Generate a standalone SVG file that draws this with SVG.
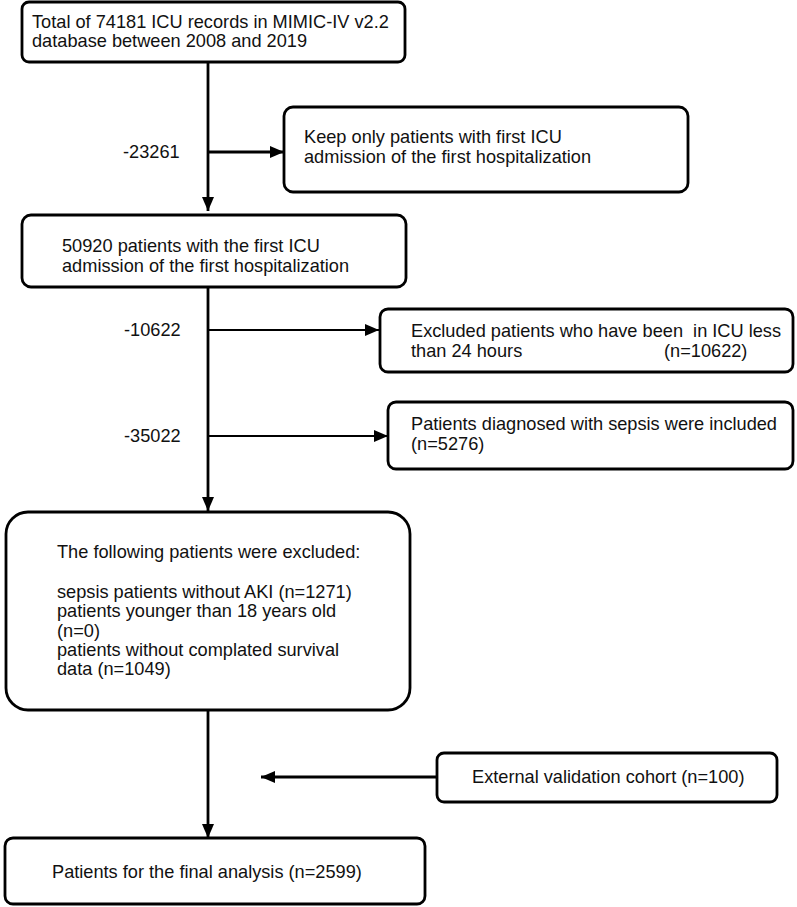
<svg xmlns="http://www.w3.org/2000/svg" width="797" height="907" viewBox="0 0 797 907">
<style>
.box{fill:#fff;stroke:#000;stroke-width:2.8}
.t{font-family:"Liberation Sans",Arial,sans-serif;font-size:18.2px;fill:#111;white-space:pre}
.ln{fill:none;stroke:#000;stroke-width:2.8}
.thin{fill:none;stroke:#000;stroke-width:2}
</style>
<defs>
<marker id="ah" markerUnits="userSpaceOnUse" markerWidth="14" markerHeight="12" refX="14" refY="6" orient="auto">
<path d="M0,0 L14,6 L0,12 z" fill="#000"/>
</marker>
</defs>
<rect width="797" height="907" fill="#fff"/>
<g id="connectors">
<line class="ln" x1="208" y1="62" x2="208" y2="211" marker-end="url(#ah)"/>
<line class="ln" x1="208" y1="152" x2="284" y2="152" marker-end="url(#ah)"/>
<line class="ln" x1="208" y1="287" x2="208" y2="511" marker-end="url(#ah)"/>
<line class="thin" x1="208" y1="330" x2="379" y2="330" marker-end="url(#ah)"/>
<line class="thin" x1="208" y1="436" x2="388" y2="436" marker-end="url(#ah)"/>
<line class="ln" x1="208" y1="710" x2="208" y2="838" marker-end="url(#ah)"/>
<line class="ln" x1="437" y1="777" x2="261" y2="777" marker-end="url(#ah)"/>
<text class="t" x="123" y="158">-23261</text>
<text class="t" x="124" y="336">-10622</text>
<text class="t" x="124" y="442">-35022</text>
</g>
<g id="n1">
<rect class="box" x="22" y="2" width="383" height="60" rx="7"/>
<text class="t" x="32" y="28">Total of 74181 ICU records in MIMIC-IV v2.2</text>
<text class="t" x="32" y="47">database between 2008 and 2019</text>
</g>
<g id="n2">
<rect class="box" x="284" y="107" width="404" height="85" rx="9"/>
<text class="t" x="304" y="143">Keep only patients with first ICU</text>
<text class="t" x="304" y="163">admission of the first hospitalization</text>
</g>
<g id="n3">
<rect class="box" x="22" y="215" width="384" height="72" rx="9"/>
<text class="t" x="62" y="252">50920 patients with the first ICU</text>
<text class="t" x="62" y="272">admission of the first hospitalization</text>
</g>
<g id="n4">
<rect class="box" x="380" y="309" width="413" height="63" rx="8"/>
<text class="t" x="411" y="337">Excluded patients who have been  in ICU less</text>
<text class="t" x="411" y="357">than 24 hours<tspan x="664">(n=10622)</tspan></text>
</g>
<g id="n5">
<rect class="box" x="388" y="402" width="405" height="67" rx="8"/>
<text class="t" x="411" y="430">Patients diagnosed with sepsis were included</text>
<text class="t" x="411" y="450">(n=5276)</text>
</g>
<g id="n6">
<rect class="box" x="6" y="512" width="404" height="198" rx="22"/>
<text class="t" x="57" y="558">The following patients were excluded:</text>
<text class="t" x="57" y="598">sepsis patients without AKI (n=1271)</text>
<text class="t" x="57" y="617">patients younger than 18 years old</text>
<text class="t" x="57" y="637">(n=0)</text>
<text class="t" x="57" y="656">patients without complated survival</text>
<text class="t" x="57" y="675">data (n=1049)</text>
</g>
<g id="n7">
<rect class="box" x="437" y="753" width="340" height="49" rx="7"/>
<text class="t" x="472" y="783">External validation cohort (n=100)</text>
</g>
<g id="n8">
<rect class="box" x="5" y="838" width="420" height="66" rx="8"/>
<text class="t" x="52" y="878">Patients for the final analysis (n=2599)</text>
</g>
</svg>
